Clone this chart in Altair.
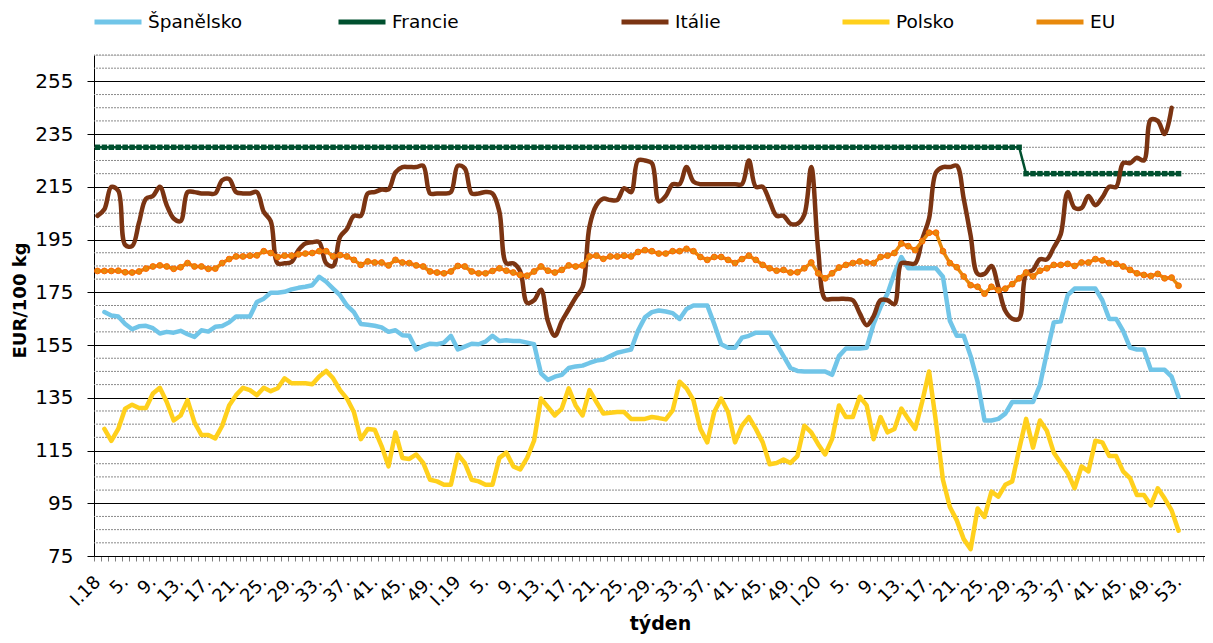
import altair as alt
import pandas as pd

# ---------------- data ----------------
series_names = ["Španělsko", "Francie", "Itálie", "Polsko", "EU"]
series_colors = ["#71C5E8", "#00502F", "#7B3412", "#FFD01C", "#E8890C"]

# week labels: 2018 (52 weeks), 2019 (52 weeks), 2020 (53 weeks)
years = [("18", 52), ("19", 52), ("20", 53)]
week_labels = []
week_numbers = []
for yr, n in years:
    for w in range(1, n + 1):
        week_labels.append("I." + yr if w == 1 else str(w) + ".")
        week_numbers.append(w)
label_step = 4

spain = [None, 167.5, 166.2, 165.8, 163, 161, 162.1, 162.3, 161.4, 159.4,
         160, 159.7, 160.4, 159.1, 158.1, 160.6, 160.1, 161.9, 162.2, 163.6,
         165.8, 165.8, 165.8, 171.3, 172.6, 174.8, 174.8, 175.2, 176.1, 176.7,
         177.1, 177.7, 180.9, 179, 176.4, 173.9, 170, 167.5, 163, 162.7,
         162.3, 161.7, 160, 160.6, 158.7, 158.5, 153.3, 154.6, 155.5, 155.3,
         155.9, 158.5, 153.3, 154.4, 155.5, 155.3, 156.3, 158.5, 156.5, 156.8,
         156.5, 156.5, 155.9, 155.3, 144.3, 141.8, 143, 143.7, 146.3, 146.9,
         147.2, 148.2, 149.1, 149.5, 150.8, 152.1, 152.7, 153.3, 160.4, 165.5,
         167.5, 168.1, 167.7, 167.1, 164.9, 168.7, 170, 170, 170, 163,
         155.3, 154, 154, 157.8, 158.5, 159.7, 159.7, 159.7, 155.3, 150.8,
         146.3, 145.2, 145, 145, 145, 145, 143.7, 150.8, 153.7, 153.7,
         153.7, 154, 163, 169.4, 174.5, 182.2, 188.4, 184.1, 184.1, 184.1,
         184.1, 184.1, 180.9, 164.2, 158.5, 158.5, 150.8, 141.1, 126.4, 126.4,
         127, 129, 133.4, 133.4, 133.4, 133.4, 139.8, 152.1, 163.6, 164,
         173.9, 176.4, 176.4, 176.4, 176.4, 172, 164.9, 164.9, 160.4, 154,
         153.3, 153.3, 145.6, 145.6, 145.6, 143, 135.4]

france = [230] * 134 + [220] * 23

italy = [204, 206.5, 215, 213.5, 193, 192.5, 201.5, 210.5, 211.5, 215,
         208, 203, 202, 213, 213, 212.5, 212.5, 212.5, 217.5, 218,
         213, 212.5, 212.5, 213, 205.5, 202, 186, 186, 186.5, 191,
         193.5, 194, 194, 186, 185, 196, 199, 204, 204, 212.5,
         213, 214, 214, 220.5, 222.5, 222.5, 222.5, 223, 212.5, 212.5,
         212.5, 213, 223, 222, 212.5, 212.5, 213, 212.5, 205.5, 186,
         186, 183, 171, 172, 176, 164, 158.5, 164, 168.5, 173,
         177, 200, 208, 210.5, 210, 210, 214.5, 213, 225, 225,
         224, 209.5, 211.5, 216, 216, 222.5, 217, 216, 216, 216,
         216, 216, 216, 216, 225, 215, 215, 209.5, 204, 204,
         201, 201, 204.5, 222.5, 191, 172.5, 172.5, 172.5, 172.5, 172,
         167, 162.5, 166, 172, 172, 170.5, 186, 186, 186, 195,
         203, 220.5, 222.5, 222.5, 223, 210.5, 196.5, 182, 182, 185,
         177, 168, 165, 165, 182, 183.5, 187.5, 187.5, 192, 197,
         213, 207, 207, 211.5, 208, 211, 215, 215, 224, 224,
         226, 225, 240.5, 240, 235, 245, None]

poland = [None, 123.2, 118.7, 123.2, 130.9, 132.4, 131.1, 131.1, 136.6, 138.8,
          133.4, 126.4, 128.3, 134.1, 125.7, 120.9, 120.9, 119.6, 124.4, 132.1,
          136, 138.8, 137.9, 136, 138.8, 137.5, 138.6, 142.4, 140.5, 140.5,
          140.5, 140.1, 143.1, 145.2, 142.4, 137.9, 134.7, 129.6, 119.3, 123.2,
          122.9, 116.7, 109, 121.9, 112.2, 111.8, 113.5, 110.3, 103.9, 103.3,
          102, 102, 113.5, 110.3, 103.9, 103.3, 102, 102, 112.2, 114.2,
          109, 107.8, 112.2, 118.7, 134.7, 131.5, 128.3, 130.9, 138.6, 132.1,
          128.3, 137.9, 133.4, 129, 129.3, 129.6, 129.6, 127, 127, 127,
          127.7, 127.3, 126.8, 130.2, 141.1, 138.6, 134.1, 123.2, 118.1, 129.6,
          134.7, 129.6, 118.1, 124.4, 127.7, 123.2, 118.1, 109.8, 110.3, 111.6,
          110.3, 112.9, 124.4, 121.9, 117.4, 113.5, 119.3, 132.1, 127.7, 127.7,
          135.4, 132.1, 119.3, 127.7, 121.9, 123.2, 130.9, 127, 123.2, 133.4,
          145, 125.7, 103.9, 93.6, 88.5, 81.4, 77.6, 93, 89.8, 99.4,
          97.5, 102, 103.3, 115.5, 127, 116.1, 126.4, 122.5, 114.2, 110.3,
          106.5, 100.7, 109, 107.1, 118.7, 118.1, 112.9, 112.9, 107.1, 104.5,
          98.1, 98.1, 94.2, 100.7, 96.8, 92.3, 84.6]

eu = [183.1, 183.1, 183.1, 183.2, 182.6, 182.5, 182.9, 184, 184.8, 185.2,
      184.8, 183.9, 184.5, 186.1, 184.8, 184.8, 183.9, 184, 186.1, 187.6,
      188.6, 188.6, 188.9, 189, 190.6, 189.9, 188.4, 188.9, 188.9, 189.4,
      189.7, 189.9, 190.6, 190.6, 188.6, 189.1, 188.6, 187.3, 185.4, 186.7,
      186.3, 186.3, 185.2, 187.3, 186.3, 186.1, 185.2, 184.8, 182.9, 182.5,
      182.2, 182.9, 185, 184.8, 182.9, 182.2, 182.2, 183.1, 184.1, 183.2,
      182.5, 181.6, 181.3, 182.9, 184.8, 183.2, 182.5, 183.5, 185.2, 184.8,
      185.2, 188.6, 188.9, 187.7, 188.6, 188.6, 188.9, 188.6, 190.3, 191,
      190.6, 189.7, 189.7, 190.6, 190.6, 191.5, 190.6, 188.4, 187.3, 188.4,
      188.4, 187.3, 186.1, 187.6, 188.9, 187.3, 185.4, 184.1, 183.2, 183.5,
      182.5, 182.6, 184.1, 186.3, 182.2, 180.3, 182.2, 184.4, 185.4, 186.1,
      186.7, 186.3, 186.1, 188.4, 188.9, 189.9, 193.5, 192.5, 191, 194.4,
      197.6, 197.6, 190.6, 186.1, 184.5, 181, 177.7, 177.1, 174.5, 177.1,
      175.8, 176.4, 178.1, 180.3, 182.5, 181, 183.2, 184.1, 185.4, 185.4,
      185.8, 185, 186.3, 186.3, 187.6, 187.1, 186.1, 185.8, 184.8, 183.5,
      182.2, 181.6, 181.2, 182, 180.3, 180.6, 177.5]

y_major = list(range(75, 256, 20))
y_minor = [v for v in range(80, 266, 5) if (v - 75) % 20 != 0]

# ---------------- tables ----------------
series_values = [spain, france, italy, poland, eu]
rows = []
for name, vals in zip(series_names, series_values):
    for i, v in enumerate(vals):
        rows.append({"x": i + 0.5, "series": name, "value": v})
df = pd.DataFrame(rows)
grid_df = pd.DataFrame({"value": y_minor})

# ---------------- layout ----------------
W, H = 1111, 501
px_per_week = 6.93
x_max = W / px_per_week
x_ticks = list(range(0, int(x_max) + 1))
tick_text = []
for v in x_ticks:
    if v < len(week_labels) and (week_numbers[v] - 1) % label_step == 0:
        tick_text.append(week_labels[v])
    else:
        tick_text.append("")
label_expr = "[" + ",".join("'" + t + "'" for t in tick_text) + "][datum.value]"

FONT = "DejaVu Sans"

x_axis = alt.Axis(
    values=x_ticks, labelExpr=label_expr, labelOffset=px_per_week / 2,
    labelAngle=315, labelAlign="right", labelBaseline="middle",
    labelPadding=18, labelFontSize=18, labelFont=FONT, labelColor="#000",
    labelOverlap=False, labelFlush=False, labelBound=False,
    tickSize=5, tickColor="#808080", domainColor="#000", domainWidth=1,
    grid=False, title="týden", titleFont=FONT, titleFontSize=19,
    titleFontWeight="bold", titleColor="#000", titleY=67,
    titleBaseline="middle", titleX=566,
)
y_axis = alt.Axis(
    values=y_major, grid=True, gridColor="#000", gridWidth=1,
    tickSize=7, tickColor="#000", domainColor="#000",
    labelFontSize=20, labelFont=FONT, labelColor="#000", labelPadding=14,
    title="EUR/100 kg", titleFont=FONT, titleFontSize=18,
    titleFontWeight="bold", titleColor="#000", titleAngle=270,
    titleX=-74, titleY=245, titleAlign="center", titleBaseline="middle",
)
x_scale = alt.Scale(domain=[0, x_max], nice=False, zero=False)
y_scale = alt.Scale(domain=[75, 265], nice=False, zero=False)

# invisible (blank braille) padding so the legend entries sit where the
# reference puts them
spain_label = "Španělsko" + "\u2800"
france_label = "Francie" + "\u00a0\u00a0" + "\u2800" * 5
italy_label = "Itálie" + "\u00a0\u00a0" + "\u2800" * 2
legend_expr = (
    "datum.label == 'Španělsko' ? '" + spain_label + "' : "
    "(datum.label == 'Francie' ? '" + france_label + "' : "
    "(datum.label == 'Itálie' ? '" + italy_label + "' : datum.label))"
)
color_enc = alt.Color(
    "series:N",
    scale=alt.Scale(domain=series_names, range=series_colors),
    sort=series_names,
    legend=alt.Legend(
        orient="none", legendX=-2, legendY=-59, direction="horizontal",
        columns=5, title=None, symbolType="stroke", symbolSize=2209,
        symbolStrokeWidth=5, labelFontSize=18.5, labelFont=FONT,
        labelColor="#000", labelOffset=4, columnPadding=72,
        labelExpr=legend_expr, labelLimit=500,
    ),
)

base = alt.Chart(df).encode(
    x=alt.X("x:Q", scale=x_scale, axis=x_axis),
    y=alt.Y("value:Q", scale=y_scale, axis=y_axis),
    color=color_enc,
)

grid = alt.Chart(grid_df).mark_rule(
    color="#8a8a8a", strokeWidth=1, strokeDash=[2, 1]
).encode(y=alt.Y("value:Q", scale=y_scale, axis=y_axis))


def line_layer(name, width, interp="linear"):
    return base.transform_filter(alt.datum.series == name).mark_line(
        strokeWidth=width, interpolate=interp, strokeCap="round",
        strokeJoin="round",
    )


spain_line = line_layer("Španělsko", 4.5)
france_line = line_layer("Francie", 2.5)
france_pts = base.transform_filter(alt.datum.series == "Francie").mark_point(
    shape="square", filled=True, size=30, opacity=1
)
italy_line = line_layer("Itálie", 4.5, "catmull-rom")
poland_line = line_layer("Polsko", 4.5)
eu_line = line_layer("EU", 3.5)
eu_pts = base.transform_filter(alt.datum.series == "EU").mark_point(
    shape="circle", filled=True, size=34, opacity=1, stroke="#FF6600",
    strokeWidth=1,
)

chart = alt.layer(
    grid, spain_line, france_line, france_pts, italy_line, poland_line,
    eu_line, eu_pts,
).properties(
    width=W, height=H,
    autosize=alt.AutoSizeParams(type="none"),
    padding={"left": 86, "top": 47, "right": 0, "bottom": 79},
).configure_view(stroke=None).configure(background="white")

chart.save("out.html", embed_options={"renderer": "svg", "actions": False})
